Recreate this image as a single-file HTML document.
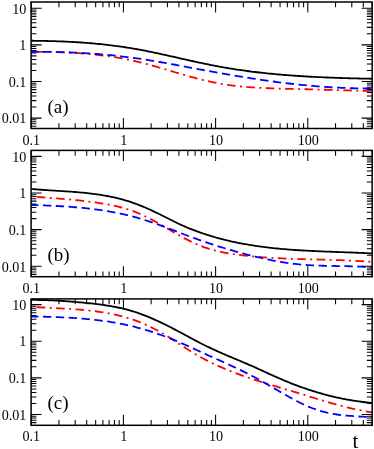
<!DOCTYPE html>
<html><head><meta charset="utf-8"><title>chart</title>
<style>
html,body{margin:0;padding:0;background:#fff;}
body{width:374px;height:449px;overflow:hidden;}
svg{display:block;will-change:transform;}
text{font-family:"Liberation Serif",serif;fill:#000;}
.tl{font-size:15px;}
.pl{font-size:19px;}
.xl{font-size:21px;}
</style></head><body>
<svg width="374" height="449" viewBox="0 0 374 449">
<rect width="374" height="449" fill="#fff"/>
<clipPath id="c0"><rect x="31.10" y="2.00" width="341.05" height="126.50"/></clipPath>
<path d="M31.20 128.50V118.00M31.20 2.00V12.50M58.95 128.50V123.20M58.95 2.00V7.30M75.19 128.50V123.20M75.19 2.00V7.30M86.71 128.50V123.20M86.71 2.00V7.30M95.65 128.50V123.20M95.65 2.00V7.30M102.95 128.50V123.20M102.95 2.00V7.30M109.12 128.50V123.20M109.12 2.00V7.30M114.46 128.50V123.20M114.46 2.00V7.30M119.18 128.50V123.20M119.18 2.00V7.30M123.40 128.50V118.00M123.40 2.00V12.50M151.15 128.50V123.20M151.15 2.00V7.30M167.39 128.50V123.20M167.39 2.00V7.30M178.91 128.50V123.20M178.91 2.00V7.30M187.85 128.50V123.20M187.85 2.00V7.30M195.15 128.50V123.20M195.15 2.00V7.30M201.32 128.50V123.20M201.32 2.00V7.30M206.66 128.50V123.20M206.66 2.00V7.30M211.38 128.50V123.20M211.38 2.00V7.30M215.60 128.50V118.00M215.60 2.00V12.50M243.35 128.50V123.20M243.35 2.00V7.30M259.59 128.50V123.20M259.59 2.00V7.30M271.11 128.50V123.20M271.11 2.00V7.30M280.05 128.50V123.20M280.05 2.00V7.30M287.35 128.50V123.20M287.35 2.00V7.30M293.52 128.50V123.20M293.52 2.00V7.30M298.86 128.50V123.20M298.86 2.00V7.30M303.58 128.50V123.20M303.58 2.00V7.30M307.80 128.50V118.00M307.80 2.00V12.50M335.55 128.50V123.20M335.55 2.00V7.30M351.79 128.50V123.20M351.79 2.00V7.30M363.31 128.50V123.20M363.31 2.00V7.30M372.25 128.50V123.20M372.25 2.00V7.30M31.10 126.24H36.40M372.15 126.24H366.85M31.10 123.78H36.40M372.15 123.78H366.85M31.10 121.66H36.40M372.15 121.66H366.85M31.10 119.79H36.40M372.15 119.79H366.85M31.10 118.11H41.60M372.15 118.11H361.65M31.10 107.08H36.40M372.15 107.08H366.85M31.10 100.63H36.40M372.15 100.63H366.85M31.10 96.06H36.40M372.15 96.06H366.85M31.10 92.51H36.40M372.15 92.51H366.85M31.10 89.61H36.40M372.15 89.61H366.85M31.10 87.15H36.40M372.15 87.15H366.85M31.10 85.03H36.40M372.15 85.03H366.85M31.10 83.16H36.40M372.15 83.16H366.85M31.10 81.48H41.60M372.15 81.48H361.65M31.10 70.45H36.40M372.15 70.45H366.85M31.10 64.00H36.40M372.15 64.00H366.85M31.10 59.43H36.40M372.15 59.43H366.85M31.10 55.88H36.40M372.15 55.88H366.85M31.10 52.98H36.40M372.15 52.98H366.85M31.10 50.52H36.40M372.15 50.52H366.85M31.10 48.40H36.40M372.15 48.40H366.85M31.10 46.53H36.40M372.15 46.53H366.85M31.10 44.85H41.60M372.15 44.85H361.65M31.10 33.82H36.40M372.15 33.82H366.85M31.10 27.37H36.40M372.15 27.37H366.85M31.10 22.80H36.40M372.15 22.80H366.85M31.10 19.25H36.40M372.15 19.25H366.85M31.10 16.35H36.40M372.15 16.35H366.85M31.10 13.89H36.40M372.15 13.89H366.85M31.10 11.77H36.40M372.15 11.77H366.85M31.10 9.90H36.40M372.15 9.90H366.85M31.10 8.22H41.60M372.15 8.22H361.65" stroke="#000" stroke-width="1.05" fill="none"/>
<g clip-path="url(#c0)" fill="none" stroke-width="1.80">
<path d="M31.10 40.75L33.10 40.76L35.10 40.78L37.10 40.81L39.10 40.84L41.10 40.87L43.10 40.91L45.10 40.95L47.10 40.99L49.10 41.04L51.10 41.09L53.10 41.15L55.10 41.21L57.10 41.28L59.10 41.35L61.10 41.43L63.10 41.51L65.10 41.60L67.10 41.69L69.10 41.79L71.10 41.90L73.10 42.01L75.10 42.12L77.10 42.24L79.10 42.37L81.10 42.50L83.10 42.64L85.10 42.79L87.10 42.94L89.10 43.10L91.10 43.27L93.10 43.44L95.10 43.62L97.10 43.81L99.10 44.01L101.10 44.21L103.10 44.42L105.10 44.63L107.10 44.86L109.10 45.09L111.10 45.33L113.10 45.58L115.10 45.84L117.10 46.10L119.10 46.38L121.10 46.66L123.10 46.95L125.10 47.25L127.10 47.56L129.10 47.87L131.10 48.20L133.10 48.54L135.10 48.88L137.10 49.24L139.10 49.60L141.10 49.97L143.10 50.35L145.10 50.74L147.10 51.14L149.10 51.54L151.10 51.95L153.10 52.36L155.10 52.78L157.10 53.21L159.10 53.64L161.10 54.07L163.10 54.51L165.10 54.95L167.10 55.39L169.10 55.84L171.10 56.29L173.10 56.74L175.10 57.19L177.10 57.65L179.10 58.10L181.10 58.55L183.10 59.01L185.10 59.46L187.10 59.91L189.10 60.36L191.10 60.80L193.10 61.25L195.10 61.69L197.10 62.12L199.10 62.56L201.10 62.99L203.10 63.41L205.10 63.83L207.10 64.24L209.10 64.65L211.10 65.05L213.10 65.44L215.10 65.83L217.10 66.21L219.10 66.58L221.10 66.94L223.10 67.30L225.10 67.65L227.10 67.99L229.10 68.32L231.10 68.65L233.10 68.96L235.10 69.27L237.10 69.58L239.10 69.88L241.10 70.17L243.10 70.45L245.10 70.73L247.10 71.00L249.10 71.26L251.10 71.52L253.10 71.77L255.10 72.01L257.10 72.25L259.10 72.49L261.10 72.71L263.10 72.93L265.10 73.15L267.10 73.36L269.10 73.56L271.10 73.76L273.10 73.96L275.10 74.14L277.10 74.33L279.10 74.50L281.10 74.68L283.10 74.85L285.10 75.01L287.10 75.17L289.10 75.32L291.10 75.47L293.10 75.61L295.10 75.75L297.10 75.89L299.10 76.02L301.10 76.15L303.10 76.27L305.10 76.39L307.10 76.51L309.10 76.62L311.10 76.73L313.10 76.83L315.10 76.94L317.10 77.03L319.10 77.13L321.10 77.22L323.10 77.31L325.10 77.40L327.10 77.48L329.10 77.56L331.10 77.64L333.10 77.71L335.10 77.78L337.10 77.85L339.10 77.92L341.10 77.99L343.10 78.05L345.10 78.11L347.10 78.17L349.10 78.23L351.10 78.28L353.10 78.33L355.10 78.39L357.10 78.44L359.10 78.49L361.10 78.53L363.10 78.58L365.10 78.62L367.10 78.67L369.10 78.71L371.10 78.75L372.15 78.78" stroke="#000000"/>
<path d="M31.10 51.75L33.10 51.76L35.10 51.77L37.10 51.79L39.10 51.81L41.10 51.83L43.10 51.86L45.10 51.89L47.10 51.92L49.10 51.96L51.10 52.00L53.10 52.05L55.10 52.10L57.10 52.16L59.10 52.22L61.10 52.29L63.10 52.36L65.10 52.44L67.10 52.53L69.10 52.63L71.10 52.73L73.10 52.83L75.10 52.95L77.10 53.07L79.10 53.20L81.10 53.34L83.10 53.49L85.10 53.65L87.10 53.81L89.10 53.99L91.10 54.17L93.10 54.37L95.10 54.57L97.10 54.78L99.10 55.01L101.10 55.24L103.10 55.49L105.10 55.74L107.10 56.01L109.10 56.29L111.10 56.58L113.10 56.89L115.10 57.21L117.10 57.53L119.10 57.88L121.10 58.23L123.10 58.60L125.10 58.98L127.10 59.38L129.10 59.79L131.10 60.21L133.10 60.65L135.10 61.11L137.10 61.58L139.10 62.06L141.10 62.56L143.10 63.07L145.10 63.59L147.10 64.12L149.10 64.66L151.10 65.21L153.10 65.77L155.10 66.34L157.10 66.91L159.10 67.49L161.10 68.08L163.10 68.67L165.10 69.26L167.10 69.85L169.10 70.45L171.10 71.05L173.10 71.65L175.10 72.24L177.10 72.84L179.10 73.43L181.10 74.02L183.10 74.61L185.10 75.19L187.10 75.76L189.10 76.33L191.10 76.89L193.10 77.44L195.10 77.98L197.10 78.52L199.10 79.04L201.10 79.55L203.10 80.05L205.10 80.53L207.10 81.00L209.10 81.46L211.10 81.90L213.10 82.32L215.10 82.73L217.10 83.11L219.10 83.48L221.10 83.84L223.10 84.17L225.10 84.49L227.10 84.79L229.10 85.08L231.10 85.35L233.10 85.60L235.10 85.84L237.10 86.07L239.10 86.29L241.10 86.49L243.10 86.68L245.10 86.86L247.10 87.03L249.10 87.18L251.10 87.33L253.10 87.46L255.10 87.59L257.10 87.71L259.10 87.82L261.10 87.92L263.10 88.02L265.10 88.11L267.10 88.19L269.10 88.27L271.10 88.34L273.10 88.40L275.10 88.46L277.10 88.52L279.10 88.58L281.10 88.63L283.10 88.68L285.10 88.73L287.10 88.78L289.10 88.82L291.10 88.87L293.10 88.91L295.10 88.96L297.10 89.01L299.10 89.06L301.10 89.11L303.10 89.16L305.10 89.21L307.10 89.26L309.10 89.32L311.10 89.37L313.10 89.43L315.10 89.48L317.10 89.54L319.10 89.60L321.10 89.66L323.10 89.71L325.10 89.77L327.10 89.83L329.10 89.88L331.10 89.94L333.10 90.00L335.10 90.05L337.10 90.11L339.10 90.17L341.10 90.22L343.10 90.27L345.10 90.33L347.10 90.38L349.10 90.43L351.10 90.48L353.10 90.53L355.10 90.57L357.10 90.62L359.10 90.66L361.10 90.70L363.10 90.74L365.10 90.78L367.10 90.82L369.10 90.85L371.10 90.88L372.15 90.90" stroke="#ff0000" stroke-dasharray="2.0 4.4 8.6 4.4" stroke-dashoffset="0.70"/>
<path d="M31.10 51.72L33.10 51.73L35.10 51.74L37.10 51.75L39.10 51.76L41.10 51.78L43.10 51.80L45.10 51.82L47.10 51.85L49.10 51.88L51.10 51.92L53.10 51.96L55.10 52.00L57.10 52.04L59.10 52.09L61.10 52.15L63.10 52.21L65.10 52.27L67.10 52.34L69.10 52.41L71.10 52.49L73.10 52.57L75.10 52.66L77.10 52.75L79.10 52.85L81.10 52.96L83.10 53.07L85.10 53.18L87.10 53.30L89.10 53.43L91.10 53.56L93.10 53.70L95.10 53.85L97.10 54.00L99.10 54.15L101.10 54.32L103.10 54.49L105.10 54.66L107.10 54.84L109.10 55.03L111.10 55.23L113.10 55.43L115.10 55.64L117.10 55.85L119.10 56.07L121.10 56.30L123.10 56.54L125.10 56.78L127.10 57.03L129.10 57.28L131.10 57.55L133.10 57.81L135.10 58.09L137.10 58.37L139.10 58.67L141.10 58.96L143.10 59.27L145.10 59.58L147.10 59.89L149.10 60.21L151.10 60.54L153.10 60.87L155.10 61.20L157.10 61.54L159.10 61.89L161.10 62.24L163.10 62.59L165.10 62.94L167.10 63.30L169.10 63.67L171.10 64.03L173.10 64.40L175.10 64.76L177.10 65.14L179.10 65.51L181.10 65.88L183.10 66.26L185.10 66.63L187.10 67.01L189.10 67.38L191.10 67.76L193.10 68.13L195.10 68.51L197.10 68.88L199.10 69.26L201.10 69.63L203.10 70.00L205.10 70.38L207.10 70.74L209.10 71.11L211.10 71.48L213.10 71.84L215.10 72.21L217.10 72.57L219.10 72.92L221.10 73.28L223.10 73.63L225.10 73.98L227.10 74.33L229.10 74.68L231.10 75.02L233.10 75.36L235.10 75.70L237.10 76.03L239.10 76.36L241.10 76.69L243.10 77.02L245.10 77.34L247.10 77.66L249.10 77.97L251.10 78.29L253.10 78.60L255.10 78.90L257.10 79.20L259.10 79.50L261.10 79.80L263.10 80.09L265.10 80.38L267.10 80.66L269.10 80.94L271.10 81.22L273.10 81.49L275.10 81.76L277.10 82.02L279.10 82.28L281.10 82.54L283.10 82.79L285.10 83.04L287.10 83.28L289.10 83.51L291.10 83.75L293.10 83.97L295.10 84.19L297.10 84.41L299.10 84.62L301.10 84.83L303.10 85.03L305.10 85.22L307.10 85.41L309.10 85.60L311.10 85.77L313.10 85.95L315.10 86.12L317.10 86.28L319.10 86.44L321.10 86.59L323.10 86.73L325.10 86.87L327.10 87.01L329.10 87.14L331.10 87.26L333.10 87.38L335.10 87.49L337.10 87.60L339.10 87.70L341.10 87.80L343.10 87.89L345.10 87.97L347.10 88.05L349.10 88.12L351.10 88.19L353.10 88.25L355.10 88.31L357.10 88.36L359.10 88.40L361.10 88.44L363.10 88.47L365.10 88.50L367.10 88.52L369.10 88.53L371.10 88.54L372.15 88.54" stroke="#0000ff" stroke-dasharray="8.4 4.5" stroke-dashoffset="1.10"/>
</g>
<rect x="31.10" y="2.00" width="341.05" height="126.50" fill="none" stroke="#000" stroke-width="1.50"/>
<text transform="translate(26.4 13.52) scale(0.940 1)" text-anchor="end" class="tl">10</text>
<text transform="translate(26.4 50.15) scale(0.940 1)" text-anchor="end" class="tl">1</text>
<text transform="translate(26.4 86.78) scale(0.940 1)" text-anchor="end" class="tl">0.1</text>
<text transform="translate(26.4 123.41) scale(0.940 1)" text-anchor="end" class="tl">0.01</text>
<text transform="translate(31.20 144.80) scale(0.940 1)" text-anchor="middle" class="tl">0.1</text>
<text transform="translate(123.80 144.80) scale(0.940 1)" text-anchor="middle" class="tl">1</text>
<text transform="translate(216.00 144.80) scale(0.940 1)" text-anchor="middle" class="tl">10</text>
<text transform="translate(308.20 144.80) scale(0.940 1)" text-anchor="middle" class="tl">100</text>
<text x="47.5" y="112.80" class="pl">(a)</text>
<clipPath id="c1"><rect x="31.10" y="150.40" width="341.05" height="126.30"/></clipPath>
<path d="M31.20 276.70V266.20M31.20 150.40V160.90M58.95 276.70V271.40M58.95 150.40V155.70M75.19 276.70V271.40M75.19 150.40V155.70M86.71 276.70V271.40M86.71 150.40V155.70M95.65 276.70V271.40M95.65 150.40V155.70M102.95 276.70V271.40M102.95 150.40V155.70M109.12 276.70V271.40M109.12 150.40V155.70M114.46 276.70V271.40M114.46 150.40V155.70M119.18 276.70V271.40M119.18 150.40V155.70M123.40 276.70V266.20M123.40 150.40V160.90M151.15 276.70V271.40M151.15 150.40V155.70M167.39 276.70V271.40M167.39 150.40V155.70M178.91 276.70V271.40M178.91 150.40V155.70M187.85 276.70V271.40M187.85 150.40V155.70M195.15 276.70V271.40M195.15 150.40V155.70M201.32 276.70V271.40M201.32 150.40V155.70M206.66 276.70V271.40M206.66 150.40V155.70M211.38 276.70V271.40M211.38 150.40V155.70M215.60 276.70V266.20M215.60 150.40V160.90M243.35 276.70V271.40M243.35 150.40V155.70M259.59 276.70V271.40M259.59 150.40V155.70M271.11 276.70V271.40M271.11 150.40V155.70M280.05 276.70V271.40M280.05 150.40V155.70M287.35 276.70V271.40M287.35 150.40V155.70M293.52 276.70V271.40M293.52 150.40V155.70M298.86 276.70V271.40M298.86 150.40V155.70M303.58 276.70V271.40M303.58 150.40V155.70M307.80 276.70V266.20M307.80 150.40V160.90M335.55 276.70V271.40M335.55 150.40V155.70M351.79 276.70V271.40M351.79 150.40V155.70M363.31 276.70V271.40M363.31 150.40V155.70M372.25 276.70V271.40M372.25 150.40V155.70M31.10 274.39H36.40M372.15 274.39H366.85M31.10 271.93H36.40M372.15 271.93H366.85M31.10 269.81H36.40M372.15 269.81H366.85M31.10 267.94H36.40M372.15 267.94H366.85M31.10 266.26H41.60M372.15 266.26H361.65M31.10 255.23H36.40M372.15 255.23H366.85M31.10 248.78H36.40M372.15 248.78H366.85M31.10 244.21H36.40M372.15 244.21H366.85M31.10 240.66H36.40M372.15 240.66H366.85M31.10 237.76H36.40M372.15 237.76H366.85M31.10 235.30H36.40M372.15 235.30H366.85M31.10 233.18H36.40M372.15 233.18H366.85M31.10 231.31H36.40M372.15 231.31H366.85M31.10 229.63H41.60M372.15 229.63H361.65M31.10 218.60H36.40M372.15 218.60H366.85M31.10 212.15H36.40M372.15 212.15H366.85M31.10 207.58H36.40M372.15 207.58H366.85M31.10 204.03H36.40M372.15 204.03H366.85M31.10 201.13H36.40M372.15 201.13H366.85M31.10 198.67H36.40M372.15 198.67H366.85M31.10 196.55H36.40M372.15 196.55H366.85M31.10 194.68H36.40M372.15 194.68H366.85M31.10 193.00H41.60M372.15 193.00H361.65M31.10 181.97H36.40M372.15 181.97H366.85M31.10 175.52H36.40M372.15 175.52H366.85M31.10 170.95H36.40M372.15 170.95H366.85M31.10 167.40H36.40M372.15 167.40H366.85M31.10 164.50H36.40M372.15 164.50H366.85M31.10 162.04H36.40M372.15 162.04H366.85M31.10 159.92H36.40M372.15 159.92H366.85M31.10 158.05H36.40M372.15 158.05H366.85M31.10 156.37H41.60M372.15 156.37H361.65" stroke="#000" stroke-width="1.05" fill="none"/>
<g clip-path="url(#c1)" fill="none" stroke-width="1.80">
<path d="M31.10 188.92L33.10 189.10L35.10 189.27L37.10 189.44L39.10 189.59L41.10 189.74L43.10 189.89L45.10 190.02L47.10 190.16L49.10 190.29L51.10 190.42L53.10 190.54L55.10 190.67L57.10 190.79L59.10 190.92L61.10 191.04L63.10 191.17L65.10 191.30L67.10 191.43L69.10 191.57L71.10 191.71L73.10 191.86L75.10 192.02L77.10 192.18L79.10 192.35L81.10 192.53L83.10 192.72L85.10 192.91L87.10 193.12L89.10 193.35L91.10 193.58L93.10 193.83L95.10 194.09L97.10 194.37L99.10 194.66L101.10 194.97L103.10 195.30L105.10 195.65L107.10 196.01L109.10 196.39L111.10 196.80L113.10 197.22L115.10 197.67L117.10 198.14L119.10 198.64L121.10 199.15L123.10 199.70L125.10 200.27L127.10 200.86L129.10 201.48L131.10 202.14L133.10 202.82L135.10 203.53L137.10 204.27L139.10 205.04L141.10 205.83L143.10 206.66L145.10 207.50L147.10 208.37L149.10 209.27L151.10 210.18L153.10 211.12L155.10 212.07L157.10 213.04L159.10 214.02L161.10 215.02L163.10 216.02L165.10 217.04L167.10 218.05L169.10 219.06L171.10 220.06L173.10 221.06L175.10 222.04L177.10 223.00L179.10 223.94L181.10 224.85L183.10 225.75L185.10 226.62L187.10 227.47L189.10 228.30L191.10 229.10L193.10 229.89L195.10 230.66L197.10 231.40L199.10 232.13L201.10 232.83L203.10 233.52L205.10 234.19L207.10 234.84L209.10 235.47L211.10 236.09L213.10 236.68L215.10 237.26L217.10 237.83L219.10 238.37L221.10 238.90L223.10 239.42L225.10 239.92L227.10 240.40L229.10 240.87L231.10 241.32L233.10 241.76L235.10 242.19L237.10 242.60L239.10 243.01L241.10 243.39L243.10 243.77L245.10 244.13L247.10 244.48L249.10 244.82L251.10 245.15L253.10 245.47L255.10 245.77L257.10 246.07L259.10 246.35L261.10 246.63L263.10 246.89L265.10 247.15L267.10 247.39L269.10 247.63L271.10 247.86L273.10 248.08L275.10 248.29L277.10 248.49L279.10 248.68L281.10 248.87L283.10 249.05L285.10 249.22L287.10 249.39L289.10 249.54L291.10 249.70L293.10 249.84L295.10 249.98L297.10 250.12L299.10 250.24L301.10 250.37L303.10 250.49L305.10 250.60L307.10 250.71L309.10 250.82L311.10 250.92L313.10 251.02L315.10 251.11L317.10 251.20L319.10 251.29L321.10 251.38L323.10 251.46L325.10 251.54L327.10 251.62L329.10 251.70L331.10 251.77L333.10 251.85L335.10 251.92L337.10 252.00L339.10 252.07L341.10 252.14L343.10 252.22L345.10 252.29L347.10 252.36L349.10 252.44L351.10 252.51L353.10 252.59L355.10 252.67L357.10 252.75L359.10 252.83L361.10 252.92L363.10 253.01L365.10 253.10L367.10 253.19L369.10 253.29L371.10 253.39L372.15 253.44" stroke="#000000"/>
<path d="M31.10 196.52L33.10 196.67L35.10 196.82L37.10 196.96L39.10 197.11L41.10 197.26L43.10 197.40L45.10 197.55L47.10 197.70L49.10 197.84L51.10 197.99L53.10 198.15L55.10 198.30L57.10 198.46L59.10 198.62L61.10 198.78L63.10 198.95L65.10 199.12L67.10 199.29L69.10 199.47L71.10 199.66L73.10 199.85L75.10 200.05L77.10 200.25L79.10 200.46L81.10 200.68L83.10 200.90L85.10 201.14L87.10 201.38L89.10 201.63L91.10 201.89L93.10 202.16L95.10 202.43L97.10 202.72L99.10 203.02L101.10 203.33L103.10 203.65L105.10 203.99L107.10 204.34L109.10 204.71L111.10 205.09L113.10 205.50L115.10 205.93L117.10 206.39L119.10 206.87L121.10 207.38L123.10 207.92L125.10 208.50L127.10 209.10L129.10 209.74L131.10 210.42L133.10 211.14L135.10 211.90L137.10 212.70L139.10 213.54L141.10 214.42L143.10 215.33L145.10 216.28L147.10 217.26L149.10 218.27L151.10 219.31L153.10 220.37L155.10 221.46L157.10 222.57L159.10 223.69L161.10 224.84L163.10 226.00L165.10 227.17L167.10 228.35L169.10 229.53L171.10 230.70L173.10 231.88L175.10 233.04L177.10 234.19L179.10 235.32L181.10 236.44L183.10 237.53L185.10 238.60L187.10 239.64L189.10 240.65L191.10 241.64L193.10 242.59L195.10 243.51L197.10 244.40L199.10 245.24L201.10 246.05L203.10 246.81L205.10 247.53L207.10 248.21L209.10 248.85L211.10 249.46L213.10 250.02L215.10 250.56L217.10 251.06L219.10 251.53L221.10 251.97L223.10 252.38L225.10 252.77L227.10 253.13L229.10 253.47L231.10 253.80L233.10 254.10L235.10 254.39L237.10 254.66L239.10 254.92L241.10 255.17L243.10 255.41L245.10 255.63L247.10 255.85L249.10 256.06L251.10 256.26L253.10 256.45L255.10 256.64L257.10 256.81L259.10 256.98L261.10 257.14L263.10 257.29L265.10 257.43L267.10 257.57L269.10 257.70L271.10 257.82L273.10 257.94L275.10 258.05L277.10 258.16L279.10 258.26L281.10 258.35L283.10 258.44L285.10 258.53L287.10 258.61L289.10 258.69L291.10 258.76L293.10 258.84L295.10 258.90L297.10 258.97L299.10 259.03L301.10 259.09L303.10 259.15L305.10 259.20L307.10 259.26L309.10 259.31L311.10 259.36L313.10 259.42L315.10 259.47L317.10 259.52L319.10 259.57L321.10 259.62L323.10 259.67L325.10 259.73L327.10 259.78L329.10 259.84L331.10 259.89L333.10 259.95L335.10 260.01L337.10 260.08L339.10 260.14L341.10 260.21L343.10 260.29L345.10 260.36L347.10 260.45L349.10 260.53L351.10 260.62L353.10 260.71L355.10 260.81L357.10 260.92L359.10 261.03L361.10 261.14L363.10 261.27L365.10 261.39L367.10 261.53L369.10 261.67L371.10 261.82L372.15 261.90" stroke="#ff0000" stroke-dasharray="2.0 4.4 8.6 4.4" stroke-dashoffset="0.70"/>
<path d="M31.10 204.93L33.10 205.00L35.10 205.07L37.10 205.14L39.10 205.22L41.10 205.29L43.10 205.37L45.10 205.45L47.10 205.54L49.10 205.63L51.10 205.72L53.10 205.81L55.10 205.91L57.10 206.02L59.10 206.13L61.10 206.25L63.10 206.37L65.10 206.50L67.10 206.63L69.10 206.77L71.10 206.92L73.10 207.07L75.10 207.23L77.10 207.40L79.10 207.58L81.10 207.77L83.10 207.96L85.10 208.17L87.10 208.38L89.10 208.61L91.10 208.84L93.10 209.08L95.10 209.34L97.10 209.61L99.10 209.88L101.10 210.17L103.10 210.47L105.10 210.79L107.10 211.11L109.10 211.45L111.10 211.80L113.10 212.17L115.10 212.55L117.10 212.94L119.10 213.35L121.10 213.77L123.10 214.21L125.10 214.66L127.10 215.13L129.10 215.61L131.10 216.11L133.10 216.63L135.10 217.16L137.10 217.72L139.10 218.28L141.10 218.87L143.10 219.48L145.10 220.10L147.10 220.74L149.10 221.40L151.10 222.07L153.10 222.76L155.10 223.46L157.10 224.17L159.10 224.90L161.10 225.63L163.10 226.37L165.10 227.12L167.10 227.88L169.10 228.64L171.10 229.40L173.10 230.17L175.10 230.93L177.10 231.70L179.10 232.47L181.10 233.24L183.10 234.00L185.10 234.76L187.10 235.51L189.10 236.25L191.10 236.99L193.10 237.72L195.10 238.45L197.10 239.16L199.10 239.87L201.10 240.57L203.10 241.26L205.10 241.95L207.10 242.62L209.10 243.29L211.10 243.95L213.10 244.61L215.10 245.25L217.10 245.89L219.10 246.52L221.10 247.14L223.10 247.76L225.10 248.37L227.10 248.97L229.10 249.56L231.10 250.14L233.10 250.72L235.10 251.29L237.10 251.85L239.10 252.40L241.10 252.94L243.10 253.48L245.10 254.01L247.10 254.53L249.10 255.04L251.10 255.55L253.10 256.05L255.10 256.54L257.10 257.02L259.10 257.49L261.10 257.95L263.10 258.41L265.10 258.85L267.10 259.29L269.10 259.71L271.10 260.12L273.10 260.52L275.10 260.90L277.10 261.28L279.10 261.64L281.10 261.98L283.10 262.31L285.10 262.63L287.10 262.93L289.10 263.22L291.10 263.49L293.10 263.74L295.10 263.97L297.10 264.19L299.10 264.39L301.10 264.58L303.10 264.74L305.10 264.90L307.10 265.04L309.10 265.16L311.10 265.28L313.10 265.38L315.10 265.47L317.10 265.55L319.10 265.63L321.10 265.69L323.10 265.75L325.10 265.81L327.10 265.85L329.10 265.90L331.10 265.94L333.10 265.97L335.10 266.01L337.10 266.04L339.10 266.08L341.10 266.11L343.10 266.15L345.10 266.18L347.10 266.22L349.10 266.27L351.10 266.32L353.10 266.37L355.10 266.43L357.10 266.50L359.10 266.58L361.10 266.66L363.10 266.76L365.10 266.86L367.10 266.98L369.10 267.10L371.10 267.24L372.15 267.32" stroke="#0000ff" stroke-dasharray="8.4 4.5" stroke-dashoffset="1.10"/>
</g>
<rect x="31.10" y="150.40" width="341.05" height="126.30" fill="none" stroke="#000" stroke-width="1.50"/>
<text transform="translate(26.4 161.67) scale(0.940 1)" text-anchor="end" class="tl">10</text>
<text transform="translate(26.4 198.30) scale(0.940 1)" text-anchor="end" class="tl">1</text>
<text transform="translate(26.4 234.93) scale(0.940 1)" text-anchor="end" class="tl">0.1</text>
<text transform="translate(26.4 271.56) scale(0.940 1)" text-anchor="end" class="tl">0.01</text>
<text transform="translate(31.20 292.80) scale(0.940 1)" text-anchor="middle" class="tl">0.1</text>
<text transform="translate(123.80 292.80) scale(0.940 1)" text-anchor="middle" class="tl">1</text>
<text transform="translate(216.00 292.80) scale(0.940 1)" text-anchor="middle" class="tl">10</text>
<text transform="translate(308.20 292.80) scale(0.940 1)" text-anchor="middle" class="tl">100</text>
<text x="47.5" y="261.00" class="pl">(b)</text>
<clipPath id="c2"><rect x="31.10" y="298.90" width="341.05" height="126.40"/></clipPath>
<path d="M31.20 425.30V414.80M31.20 298.90V309.40M58.95 425.30V420.00M58.95 298.90V304.20M75.19 425.30V420.00M75.19 298.90V304.20M86.71 425.30V420.00M86.71 298.90V304.20M95.65 425.30V420.00M95.65 298.90V304.20M102.95 425.30V420.00M102.95 298.90V304.20M109.12 425.30V420.00M109.12 298.90V304.20M114.46 425.30V420.00M114.46 298.90V304.20M119.18 425.30V420.00M119.18 298.90V304.20M123.40 425.30V414.80M123.40 298.90V309.40M151.15 425.30V420.00M151.15 298.90V304.20M167.39 425.30V420.00M167.39 298.90V304.20M178.91 425.30V420.00M178.91 298.90V304.20M187.85 425.30V420.00M187.85 298.90V304.20M195.15 425.30V420.00M195.15 298.90V304.20M201.32 425.30V420.00M201.32 298.90V304.20M206.66 425.30V420.00M206.66 298.90V304.20M211.38 425.30V420.00M211.38 298.90V304.20M215.60 425.30V414.80M215.60 298.90V309.40M243.35 425.30V420.00M243.35 298.90V304.20M259.59 425.30V420.00M259.59 298.90V304.20M271.11 425.30V420.00M271.11 298.90V304.20M280.05 425.30V420.00M280.05 298.90V304.20M287.35 425.30V420.00M287.35 298.90V304.20M293.52 425.30V420.00M293.52 298.90V304.20M298.86 425.30V420.00M298.86 298.90V304.20M303.58 425.30V420.00M303.58 298.90V304.20M307.80 425.30V414.80M307.80 298.90V309.40M335.55 425.30V420.00M335.55 298.90V304.20M351.79 425.30V420.00M351.79 298.90V304.20M363.31 425.30V420.00M363.31 298.90V304.20M372.25 425.30V420.00M372.25 298.90V304.20M31.10 422.63H36.40M372.15 422.63H366.85M31.10 420.17H36.40M372.15 420.17H366.85M31.10 418.05H36.40M372.15 418.05H366.85M31.10 416.18H36.40M372.15 416.18H366.85M31.10 414.50H41.60M372.15 414.50H361.65M31.10 403.47H36.40M372.15 403.47H366.85M31.10 397.02H36.40M372.15 397.02H366.85M31.10 392.45H36.40M372.15 392.45H366.85M31.10 388.90H36.40M372.15 388.90H366.85M31.10 386.00H36.40M372.15 386.00H366.85M31.10 383.54H36.40M372.15 383.54H366.85M31.10 381.42H36.40M372.15 381.42H366.85M31.10 379.55H36.40M372.15 379.55H366.85M31.10 377.87H41.60M372.15 377.87H361.65M31.10 366.84H36.40M372.15 366.84H366.85M31.10 360.39H36.40M372.15 360.39H366.85M31.10 355.82H36.40M372.15 355.82H366.85M31.10 352.27H36.40M372.15 352.27H366.85M31.10 349.37H36.40M372.15 349.37H366.85M31.10 346.91H36.40M372.15 346.91H366.85M31.10 344.79H36.40M372.15 344.79H366.85M31.10 342.92H36.40M372.15 342.92H366.85M31.10 341.24H41.60M372.15 341.24H361.65M31.10 330.21H36.40M372.15 330.21H366.85M31.10 323.76H36.40M372.15 323.76H366.85M31.10 319.19H36.40M372.15 319.19H366.85M31.10 315.64H36.40M372.15 315.64H366.85M31.10 312.74H36.40M372.15 312.74H366.85M31.10 310.28H36.40M372.15 310.28H366.85M31.10 308.16H36.40M372.15 308.16H366.85M31.10 306.29H36.40M372.15 306.29H366.85M31.10 304.61H41.60M372.15 304.61H361.65" stroke="#000" stroke-width="1.05" fill="none"/>
<g clip-path="url(#c2)" fill="none" stroke-width="1.80">
<path d="M31.10 299.92L33.10 299.92L35.10 299.94L37.10 299.96L39.10 299.99L41.10 300.03L43.10 300.08L45.10 300.14L47.10 300.21L49.10 300.28L51.10 300.36L53.10 300.46L55.10 300.55L57.10 300.66L59.10 300.77L61.10 300.90L63.10 301.02L65.10 301.16L67.10 301.30L69.10 301.45L71.10 301.61L73.10 301.77L75.10 301.93L77.10 302.11L79.10 302.29L81.10 302.47L83.10 302.66L85.10 302.86L87.10 303.06L89.10 303.26L91.10 303.48L93.10 303.70L95.10 303.93L97.10 304.17L99.10 304.42L101.10 304.68L103.10 304.95L105.10 305.24L107.10 305.55L109.10 305.87L111.10 306.20L113.10 306.56L115.10 306.94L117.10 307.33L119.10 307.75L121.10 308.19L123.10 308.65L125.10 309.14L127.10 309.66L129.10 310.20L131.10 310.77L133.10 311.37L135.10 312.00L137.10 312.66L139.10 313.34L141.10 314.06L143.10 314.81L145.10 315.58L147.10 316.38L149.10 317.20L151.10 318.05L153.10 318.92L155.10 319.81L157.10 320.72L159.10 321.65L161.10 322.60L163.10 323.56L165.10 324.54L167.10 325.54L169.10 326.55L171.10 327.57L173.10 328.60L175.10 329.65L177.10 330.70L179.10 331.76L181.10 332.83L183.10 333.91L185.10 334.98L187.10 336.06L189.10 337.13L191.10 338.21L193.10 339.27L195.10 340.33L197.10 341.39L199.10 342.43L201.10 343.45L203.10 344.47L205.10 345.46L207.10 346.44L209.10 347.40L211.10 348.34L213.10 349.27L215.10 350.19L217.10 351.09L219.10 351.99L221.10 352.87L223.10 353.74L225.10 354.61L227.10 355.46L229.10 356.32L231.10 357.16L233.10 358.01L235.10 358.85L237.10 359.70L239.10 360.54L241.10 361.38L243.10 362.23L245.10 363.08L247.10 363.94L249.10 364.80L251.10 365.67L253.10 366.55L255.10 367.43L257.10 368.33L259.10 369.24L261.10 370.15L263.10 371.06L265.10 371.98L267.10 372.89L269.10 373.81L271.10 374.72L273.10 375.63L275.10 376.53L277.10 377.42L279.10 378.30L281.10 379.17L283.10 380.03L285.10 380.87L287.10 381.70L289.10 382.51L291.10 383.30L293.10 384.09L295.10 384.85L297.10 385.61L299.10 386.34L301.10 387.07L303.10 387.77L305.10 388.47L307.10 389.15L309.10 389.81L311.10 390.46L313.10 391.09L315.10 391.71L317.10 392.31L319.10 392.90L321.10 393.47L323.10 394.03L325.10 394.58L327.10 395.10L329.10 395.62L331.10 396.11L333.10 396.60L335.10 397.06L337.10 397.52L339.10 397.95L341.10 398.37L343.10 398.78L345.10 399.17L347.10 399.55L349.10 399.91L351.10 400.25L353.10 400.58L355.10 400.90L357.10 401.20L359.10 401.48L361.10 401.75L363.10 402.00L365.10 402.24L367.10 402.46L369.10 402.67L371.10 402.86L372.15 402.95" stroke="#000000"/>
<path d="M31.10 306.66L33.10 306.82L35.10 306.97L37.10 307.11L39.10 307.24L41.10 307.37L43.10 307.49L45.10 307.61L47.10 307.72L49.10 307.83L51.10 307.94L53.10 308.04L55.10 308.15L57.10 308.25L59.10 308.36L61.10 308.46L63.10 308.57L65.10 308.68L67.10 308.80L69.10 308.92L71.10 309.04L73.10 309.17L75.10 309.31L77.10 309.46L79.10 309.61L81.10 309.77L83.10 309.94L85.10 310.13L87.10 310.32L89.10 310.53L91.10 310.75L93.10 310.98L95.10 311.23L97.10 311.49L99.10 311.77L101.10 312.07L103.10 312.38L105.10 312.71L107.10 313.06L109.10 313.43L111.10 313.82L113.10 314.24L115.10 314.67L117.10 315.13L119.10 315.61L121.10 316.12L123.10 316.65L125.10 317.21L127.10 317.80L129.10 318.41L131.10 319.05L133.10 319.72L135.10 320.42L137.10 321.15L139.10 321.91L141.10 322.71L143.10 323.54L145.10 324.40L147.10 325.30L149.10 326.23L151.10 327.20L153.10 328.20L155.10 329.23L157.10 330.30L159.10 331.40L161.10 332.53L163.10 333.68L165.10 334.86L167.10 336.06L169.10 337.29L171.10 338.54L173.10 339.81L175.10 341.10L177.10 342.41L179.10 343.73L181.10 345.06L183.10 346.39L185.10 347.71L187.10 349.02L189.10 350.32L191.10 351.58L193.10 352.82L195.10 354.02L197.10 355.19L199.10 356.33L201.10 357.44L203.10 358.52L205.10 359.58L207.10 360.61L209.10 361.62L211.10 362.60L213.10 363.56L215.10 364.50L217.10 365.42L219.10 366.31L221.10 367.19L223.10 368.06L225.10 368.90L227.10 369.73L229.10 370.54L231.10 371.34L233.10 372.12L235.10 372.89L237.10 373.64L239.10 374.38L241.10 375.11L243.10 375.83L245.10 376.53L247.10 377.23L249.10 377.91L251.10 378.58L253.10 379.25L255.10 379.91L257.10 380.55L259.10 381.19L261.10 381.83L263.10 382.45L265.10 383.08L267.10 383.69L269.10 384.31L271.10 384.91L273.10 385.52L275.10 386.12L277.10 386.72L279.10 387.32L281.10 387.91L283.10 388.51L285.10 389.11L287.10 389.70L289.10 390.30L291.10 390.90L293.10 391.50L295.10 392.11L297.10 392.71L299.10 393.33L301.10 393.94L303.10 394.56L305.10 395.17L307.10 395.79L309.10 396.41L311.10 397.03L313.10 397.65L315.10 398.26L317.10 398.88L319.10 399.49L321.10 400.09L323.10 400.69L325.10 401.29L327.10 401.88L329.10 402.47L331.10 403.04L333.10 403.61L335.10 404.18L337.10 404.73L339.10 405.27L341.10 405.81L343.10 406.33L345.10 406.84L347.10 407.34L349.10 407.83L351.10 408.30L353.10 408.76L355.10 409.21L357.10 409.64L359.10 410.05L361.10 410.45L363.10 410.83L365.10 411.19L367.10 411.54L369.10 411.86L371.10 412.17L372.15 412.32" stroke="#ff0000" stroke-dasharray="2.0 4.4 8.6 4.4" stroke-dashoffset="0.70"/>
<path d="M31.10 316.44L33.10 316.48L35.10 316.52L37.10 316.56L39.10 316.61L41.10 316.65L43.10 316.70L45.10 316.76L47.10 316.81L49.10 316.87L51.10 316.93L53.10 317.00L55.10 317.07L57.10 317.14L59.10 317.22L61.10 317.31L63.10 317.40L65.10 317.50L67.10 317.60L69.10 317.71L71.10 317.82L73.10 317.94L75.10 318.07L77.10 318.21L79.10 318.36L81.10 318.51L83.10 318.68L85.10 318.85L87.10 319.03L89.10 319.22L91.10 319.42L93.10 319.63L95.10 319.85L97.10 320.08L99.10 320.33L101.10 320.58L103.10 320.85L105.10 321.13L107.10 321.42L109.10 321.73L111.10 322.04L113.10 322.37L115.10 322.72L117.10 323.08L119.10 323.45L121.10 323.84L123.10 324.24L125.10 324.66L127.10 325.09L129.10 325.54L131.10 326.01L133.10 326.49L135.10 326.99L137.10 327.51L139.10 328.04L141.10 328.59L143.10 329.16L145.10 329.74L147.10 330.35L149.10 330.96L151.10 331.60L153.10 332.25L155.10 332.91L157.10 333.60L159.10 334.29L161.10 335.01L163.10 335.74L165.10 336.49L167.10 337.25L169.10 338.02L171.10 338.82L173.10 339.62L175.10 340.44L177.10 341.28L179.10 342.13L181.10 343.00L183.10 343.88L185.10 344.76L187.10 345.66L189.10 346.57L191.10 347.48L193.10 348.39L195.10 349.31L197.10 350.23L199.10 351.15L201.10 352.07L203.10 352.99L205.10 353.90L207.10 354.81L209.10 355.71L211.10 356.61L213.10 357.51L215.10 358.40L217.10 359.30L219.10 360.19L221.10 361.09L223.10 361.99L225.10 362.89L227.10 363.80L229.10 364.72L231.10 365.64L233.10 366.56L235.10 367.50L237.10 368.44L239.10 369.40L241.10 370.36L243.10 371.34L245.10 372.33L247.10 373.34L249.10 374.36L251.10 375.39L253.10 376.45L255.10 377.52L257.10 378.61L259.10 379.71L261.10 380.83L263.10 381.96L265.10 383.10L267.10 384.25L269.10 385.41L271.10 386.57L273.10 387.74L275.10 388.90L277.10 390.07L279.10 391.23L281.10 392.39L283.10 393.55L285.10 394.70L287.10 395.83L289.10 396.95L291.10 398.06L293.10 399.15L295.10 400.22L297.10 401.27L299.10 402.28L301.10 403.28L303.10 404.23L305.10 405.16L307.10 406.05L309.10 406.90L311.10 407.71L313.10 408.48L315.10 409.20L317.10 409.88L319.10 410.52L321.10 411.12L323.10 411.68L325.10 412.19L327.10 412.67L329.10 413.10L331.10 413.50L333.10 413.86L335.10 414.20L337.10 414.50L339.10 414.78L341.10 415.03L343.10 415.25L345.10 415.46L347.10 415.64L349.10 415.81L351.10 415.97L353.10 416.11L355.10 416.24L357.10 416.37L359.10 416.48L361.10 416.60L363.10 416.71L365.10 416.82L367.10 416.94L369.10 417.06L371.10 417.19L372.15 417.26" stroke="#0000ff" stroke-dasharray="8.4 4.5" stroke-dashoffset="1.10"/>
</g>
<rect x="31.10" y="298.90" width="341.05" height="126.40" fill="none" stroke="#000" stroke-width="1.50"/>
<text transform="translate(26.4 309.61) scale(0.940 1)" text-anchor="end" class="tl">10</text>
<text transform="translate(26.4 346.24) scale(0.940 1)" text-anchor="end" class="tl">1</text>
<text transform="translate(26.4 382.87) scale(0.940 1)" text-anchor="end" class="tl">0.1</text>
<text transform="translate(26.4 419.50) scale(0.940 1)" text-anchor="end" class="tl">0.01</text>
<text transform="translate(31.20 440.80) scale(0.940 1)" text-anchor="middle" class="tl">0.1</text>
<text transform="translate(123.80 440.80) scale(0.940 1)" text-anchor="middle" class="tl">1</text>
<text transform="translate(216.00 440.80) scale(0.940 1)" text-anchor="middle" class="tl">10</text>
<text transform="translate(308.20 440.80) scale(0.940 1)" text-anchor="middle" class="tl">100</text>
<text x="47.5" y="409.00" class="pl">(c)</text>
<text x="352.5" y="447.5" class="xl">t</text>
</svg>
</body></html>
